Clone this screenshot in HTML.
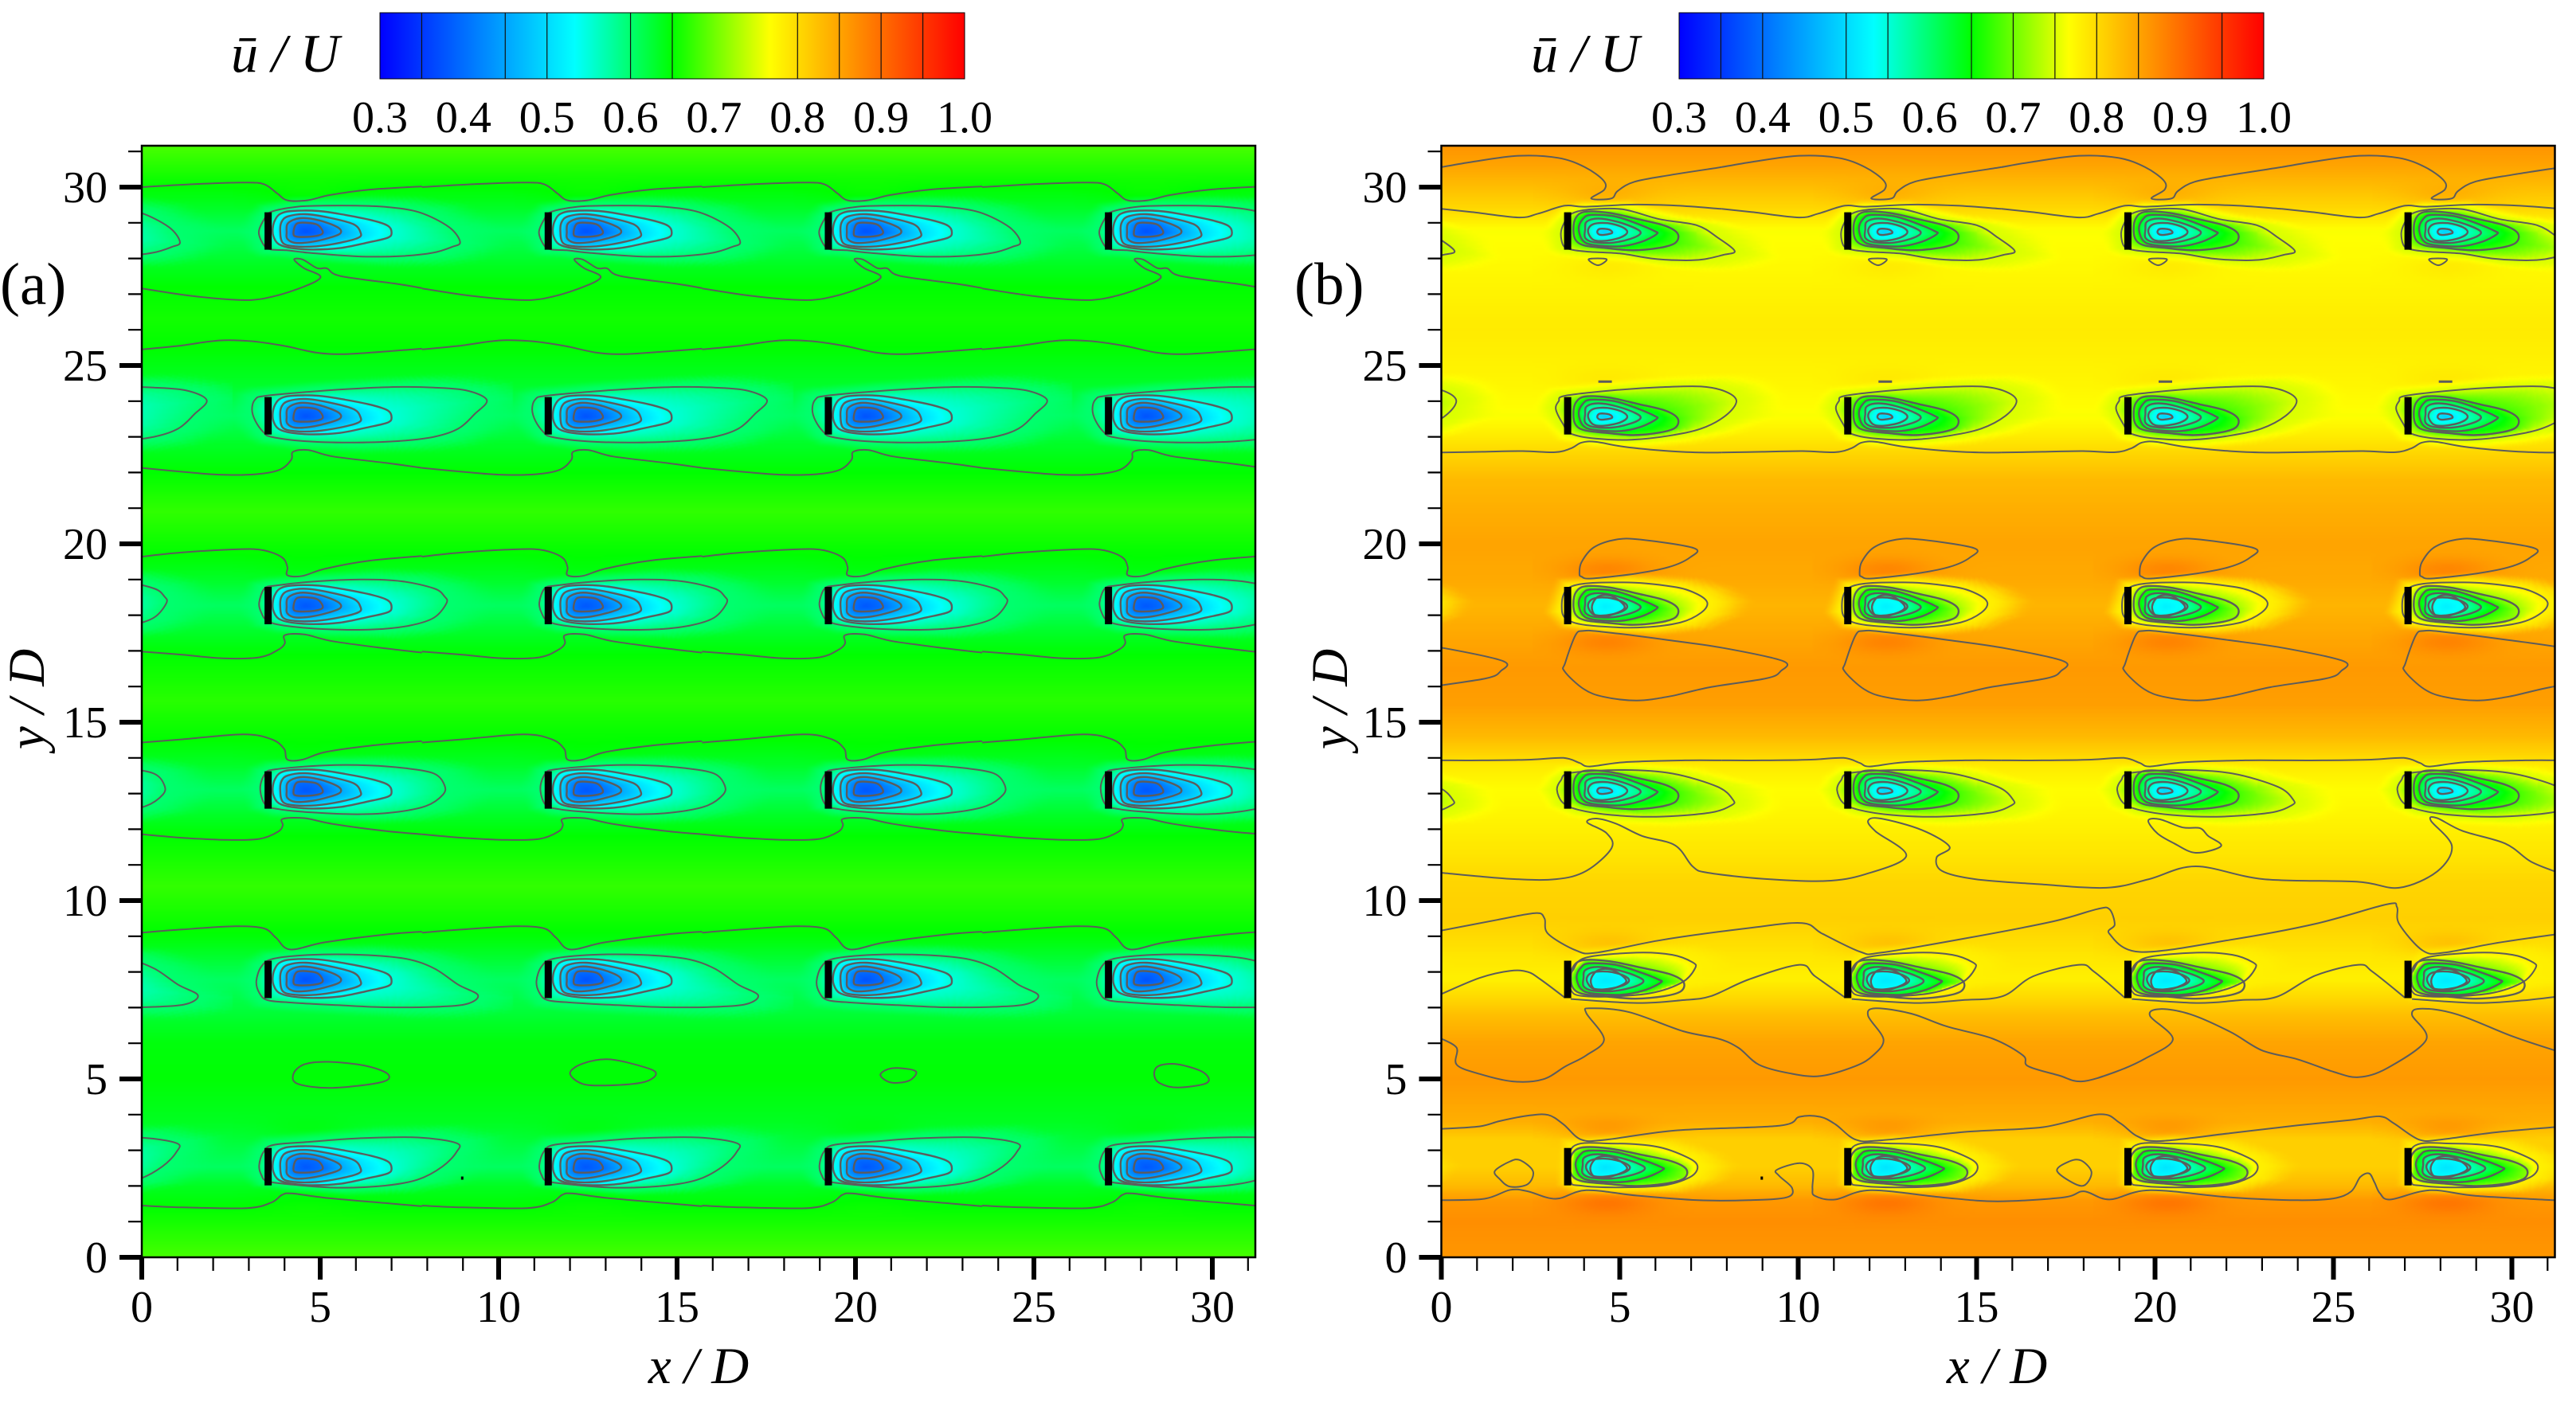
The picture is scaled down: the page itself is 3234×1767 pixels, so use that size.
<!DOCTYPE html>
<html lang="en">
<head>
<meta charset="utf-8">
<title>Mean streamwise velocity contours</title>
<style>
html,body{margin:0;padding:0;background:#fff;}
#figure{position:relative;width:3234px;height:1767px;overflow:hidden;background:#fff;font-family:"Liberation Serif",serif;}
canvas{position:absolute;top:183px;width:1398px;height:1396px;}
svg{position:absolute;left:0;top:0;}
text{font-family:"Liberation Serif",serif;fill:#000;}
.it{font-style:italic;}
</style>
</head>
<body>
<div id="figure">
<canvas id="field-a" width="699" height="698" style="left:178px"></canvas>
<canvas id="field-b" width="699" height="698" style="left:1809.5px"></canvas>
<svg id="overlay" width="3234" height="1767" viewBox="0 0 3234 1767">
  <defs id="defs"></defs>
  <text x="0" y="382" font-size="75">(a)</text>
  <text x="1625" y="382" font-size="75">(b)</text>
  <text class="it" x="290" y="90" font-size="68">ū / U</text>
  <text class="it" x="1922" y="90" font-size="68">ū / U</text>
  <text class="it" x="877" y="1737" font-size="65" text-anchor="middle">x / D</text>
  <text class="it" x="2507" y="1737" font-size="65" text-anchor="middle">x / D</text>
  <text class="it" transform="translate(55 878) rotate(-90)" font-size="65" text-anchor="middle">y / D</text>
  <text class="it" transform="translate(1691 878) rotate(-90)" font-size="65" text-anchor="middle">y / D</text>
</svg>
</div>
<script>
/* ---------- axes ---------- */
const xMajorTicks = [0,5,10,15,20,25,30];
const yMajorTicks = [0,5,10,15,20,25,30];
const minorTicks = [1,2,3,4,6,7,8,9,11,12,13,14,16,17,18,19,21,22,23,24,26,27,28,29,31];
const colorbarTicks = ["0.3","0.4","0.5","0.6","0.7","0.8","0.9","1.0"];
const colorbarLevelsA = [0.35,0.45,0.5,0.6,0.65,0.8,0.85,0.9,0.95];
const colorbarLevelsB = [0.35,0.4,0.5,0.55,0.65,0.7,0.75,0.8,0.85,0.95];

/* ---------- colour map ---------- */
const cmapValues = [0.3,0.5333,0.65,0.7667,1.0];
const cmapRed    = [0,0,0,255,255];
const cmapGreen  = [0,255,255,255,0];
const cmapBlue   = [255,255,0,0,0];

/* ---------- layout of the wind-farm ---------- */
const rowY = [28.77,23.59,18.27,13.10,7.79,2.54];
const turbineX = [3.54,11.39,19.24,27.09];
const turbinePeriod = [7.85];

/* ---------- background velocity profile across y ---------- */
const bgStationsA = [0,1.4,2.0,2.54,3.2,3.8,5,6,7,7.79,8.6,9.1,10.4,11.8,12.4,13.1,13.8,14.5,15.6,16.9,17.5,18.27,19,19.7,20.9,22,22.8,23.59,24.5,25.5,26.3,27.2,27.8,28.77,29.4,30,31.2];
const bgValuesA   = [0.682,0.65,0.635,0.606,0.622,0.635,0.648,0.645,0.622,0.606,0.635,0.65,0.673,0.65,0.632,0.606,0.632,0.65,0.668,0.65,0.632,0.606,0.632,0.65,0.672,0.65,0.632,0.606,0.632,0.65,0.658,0.65,0.635,0.606,0.632,0.65,0.685];
const bgStationsB = [0,1,1.6,2,2.54,3.3,3.8,5,6,6.8,7.2,7.79,8.5,9,9.5,10.5,11,12,13.1,13.8,14,14.6,15.5,16.5,17.2,18.27,19,20,21,21.8,22.5,23,23.59,24.5,26,27,28,28.77,29.35,30.6,31.2];
const bgValuesB   = [0.862,0.87,0.86,0.83,0.81,0.81,0.84,0.86,0.85,0.825,0.805,0.78,0.79,0.8,0.81,0.805,0.795,0.78,0.768,0.785,0.8,0.83,0.855,0.86,0.85,0.835,0.845,0.85,0.84,0.83,0.805,0.785,0.765,0.775,0.785,0.778,0.77,0.765,0.8,0.85,0.865];

/* ---------- wake contour levels (one list per row) ---------- */
const wakeLevelsA = [[0.6,0.55,0.5,0.45,0.4],[0.6,0.55,0.5,0.45,0.4],[0.6,0.55,0.5,0.45,0.4],[0.6,0.55,0.5,0.45,0.4],[0.6,0.55,0.5,0.45,0.4],[0.6,0.55,0.5,0.45,0.4]];
const wakeCoreA = [0.375,0.375,0.38,0.38,0.375,0.38];
const wakeLevelsB = [[0.75,0.68,0.63,0.59,0.56,0.51],[0.75,0.68,0.63,0.59,0.56,0.51],[0.78,0.72,0.66,0.61,0.57,0.54],[0.75,0.68,0.63,0.59,0.56,0.51],[0.78,0.71,0.65,0.6,0.56,0.53],[0.78,0.71,0.65,0.6,0.56,0.53]];
const wakeCoreB = [0.49,0.49,0.52,0.49,0.515,0.51];
const innerStretchB = [1,1,1,1,1.08,1.12];
const glowAboveA = [0.008,0,0.005,0.005,0,0.01];
const glowBelowA = [0,0,0,0,0,0.005];
const glowAboveB = [0.02,0.01,0.03,0,0.025,0.03];
const glowBelowB = [0.012,0,0.03,0,0,0.03];

/* ---------- wake outlines, local to each turbine (dx, dy in D) ---------- */
const outerA1 = [[-.26,-.04],[-.11,.33],[.09,.54],[.82,.68],[1.57,.71],[2.46,.71],[3.35,.67],[4.25,.52],[5.07,.11],[5.38,-.31],[5.14,-.45],[4.62,-.61],[3.8,-.7],[2.76,-.72],[2.01,-.68],[1.12,-.61],[.52,-.54],[.09,-.52],[-.11,-.41]];
const outerA2 = [[-.45,.18],[-.36,.46],[-.08,.56],[1.23,.68],[2.6,.77],[3.74,.81],[4.65,.79],[5.56,.71],[6.13,.44],[5.79,.05],[5.33,-.36],[4.65,-.59],[3.63,-.71],[2.26,-.75],[1.01,-.71],[.09,-.59],[-.13,-.46],[-.36,-.14]];
const outerA3 = [[-.25,.09],[-.1,.48],[.21,.56],[1.23,.67],[2.6,.73],[3.74,.68],[4.65,.48],[4.94,.26],[5,.07],[4.65,-.34],[3.97,-.56],[2.94,-.67],[1.58,-.66],[.44,-.56],[-.02,-.43],[-.19,-.2]];
const outerA4 = [[-.22,.05],[-.08,.46],[.21,.58],[1.58,.69],[2.83,.69],[3.85,.61],[4.65,.46],[4.94,.14],[4.9,-.13],[4.42,-.45],[3.51,-.63],[2.49,-.68],[1.23,-.63],[.32,-.54],[-.08,-.41]];
const outerA5 = [[-.33,-.05],[-.19,.36],[.15,.58],[1.23,.69],[2.6,.69],[3.85,.58],[4.65,.31],[5.33,-.15],[5.88,-.44],[5.56,-.69],[4.65,-.77],[3.28,-.78],[1.92,-.72],[.66,-.65],[-.02,-.58],[-.25,-.37]];
const outerA6 = [[-.25,.05],[-.13,.41],[.15,.61],[1.23,.7],[2.6,.8],[4.2,.82],[5.28,.66],[5.28,.41],[4.88,0],[4.2,-.36],[3.28,-.53],[1.92,-.59],[.66,-.5],[-.02,-.41],[-.19,-.23]];
const innerA2 = [[.13,.07],[.19,.3],[.34,.48],[.67,.56],[1.42,.56],[2.16,.45],[2.91,.3],[3.35,.15],[3.46,-.04],[3.35,-.19],[2.76,-.33],[2.01,-.48],[1.27,-.52],[.67,-.48],[.3,-.37],[.15,-.15]];
const innerA3 = [[.34,0],[.38,.26],[.56,.41],[1.05,.47],[1.72,.37],[2.39,.19],[2.59,-.04],[2.53,-.19],[2.01,-.33],[1.34,-.43],[.75,-.43],[.41,-.33]];
const innerA4 = [[.52,-.04],[.56,.22],[.9,.36],[1.42,.3],[1.94,.11],[2.03,-.06],[1.72,-.19],[1.19,-.31],[.75,-.33],[.54,-.22]];
const innerA5 = [[.71,-.07],[.81,.21],[1.19,.22],[1.42,.15],[1.53,-.06],[1.27,-.15],[.82,-.16]];

const outerB1 = [[-.19,-.07],[-.1,.22],[.1,.48],[.57,.6],[1.53,.61],[2.58,.33],[3.62,.16],[4.21,-.19],[4.68,-.56],[4.36,-.67],[3.77,-.8],[3.1,-.82],[2.35,-.77],[1.46,-.63],[.57,-.58],[.1,-.52],[-.12,-.41]];
const outerB2 = [[-.33,.18],[-.25,.41],[-.08,.56],[1.23,.71],[2.6,.8],[3.74,.82],[4.42,.68],[4.73,.41],[4.42,0],[3.74,-.36],[2.83,-.56],[1.8,-.67],[.78,-.64],[.09,-.5],[-.13,-.23]];
const outerB3 = [[.09,.53],[1.58,.65],[2.94,.53],[3.57,.35],[3.91,.09],[3.74,-.2],[3.17,-.47],[2.14,-.61],[1.01,-.59],[.15,-.47],[-.16,-.15]];
const outerB4 = [[-.3,0],[-.19,.27],[.09,.48],[1.58,.56],[2.94,.46],[4.2,.09],[4.63,-.27],[4.59,-.43],[3.97,-.64],[2.49,-.75],[1.23,-.7],[.32,-.56],[-.13,-.36]];
const outerB5 = [[.05,0],[.15,.26],[.51,.61],[1.93,.75],[2.93,.69],[3.5,.48],[3.57,.31],[3.21,-.08],[2.36,-.38],[1.22,-.48],[.37,-.46],[.11,-.33]];
const outerB6 = [[.15,.56],[1.22,.65],[2.5,.56],[3.36,.26],[3.64,.01],[3.43,-.29],[2.64,-.53],[1.36,-.58],[.37,-.53],[.08,-.38]];
const innerB2 = [[.16,.04],[.23,.37],[.49,.54],[1.16,.51],[1.98,.33],[2.72,.15],[3.08,-.07],[3.02,-.33],[2.58,-.47],[1.83,-.54],[1.09,-.48],[.49,-.41],[.23,-.26]];
const innerB3 = [[.31,.07],[.42,.33],[.64,.45],[1.31,.41],[1.91,.22],[2.43,0],[2.49,-.09],[2.05,-.31],[1.46,-.43],[.71,-.39],[.42,-.26]];
const innerB4 = [[.49,.04],[.53,.26],[.86,.35],[1.39,.26],[1.91,.07],[2.04,-.07],[1.76,-.22],[1.24,-.33],[.71,-.31],[.49,-.19]];
const innerB5 = [[.57,0],[.71,.19],[1.12,.22],[1.53,.11],[1.67,-.04],[1.46,-.19],[1.01,-.28],[.71,-.24]];
const innerB6small = [[.83,-.04],[.9,.06],[1.16,.04],[1.24,-.06],[.94,-.11]];
const innerB6wide = [[.68,-.02],[.85,.25],[1.2,.28],[1.55,.05],[1.55,-.12],[1.1,-.3],[.78,-.28]];

/* ---------- contour lines between rows (one period, x in D) ---------- */
const lineA1 = [[0,30],[1.58,30.09],[2.88,30.13],[3.43,30.08],[3.8,29.82],[4.08,29.63],[4.64,29.63],[5.28,29.78],[6.39,29.93],[7.85,30.02]];
const lineA2 = [[0,27.16],[1.4,26.95],[2.69,26.84],[3.43,26.88],[4.36,27.14],[5.01,27.47],[4.54,27.73],[4.27,27.97],[4.51,27.97],[4.91,27.73],[5.19,27.72],[5.56,27.51],[7.13,27.29],[7.85,27.17]];
const lineA3 = [[0,25.45],[1.03,25.55],[2.16,25.7],[3.08,25.68],[3.99,25.55],[4.9,25.36],[5.69,25.32],[7.06,25.41],[7.85,25.47]];
const lineA4 = [[0,22.13],[1.14,22.02],[2.16,21.94],[3.19,21.95],[3.87,22.08],[4.19,22.36],[4.24,22.58],[4.67,22.63],[5.35,22.45],[6.83,22.27],[7.85,22.13]];
const lineA5 = [[0,19.64],[1.14,19.76],[2.73,19.85],[3.42,19.82],[3.93,19.62],[4.08,19.35],[4.08,19.12],[4.5,19.1],[5.13,19.3],[6.38,19.53],[7.85,19.66]];
const lineA6 = [[0,16.98],[1.14,16.89],[2.28,16.79],[3.3,16.82],[3.82,17.03],[4.01,17.21],[4.01,17.44],[4.56,17.46],[5.35,17.27],[6.83,17.07],[7.85,16.95]];
const lineA7 = [[0,14.43],[1.14,14.52],[2.85,14.66],[3.64,14.52],[3.99,14.25],[4.08,13.95],[4.5,13.95],[5.13,14.16],[6.38,14.34],[7.85,14.47]];
const lineA8 = [[0,11.86],[1.14,11.76],[2.39,11.7],[3.3,11.73],[3.82,11.93],[3.95,12.11],[3.95,12.29],[4.56,12.31],[5.35,12.15],[6.83,11.95],[7.85,11.86]];
const lineA9 = [[0,9.1],[1.14,9.19],[2.62,9.28],[3.42,9.22],[3.76,8.96],[4.16,8.63],[5.13,8.83],[6.83,9.05],[7.85,9.13]];
const lineA10 = [[0,1.45],[1.14,1.4],[2.96,1.38],[3.64,1.54],[3.93,1.75],[4.21,1.79],[5.13,1.67],[6.83,1.52],[7.85,1.43]];
const islandA1 = [[4.25,5.14],[4.56,5.41],[5.24,5.48],[6.26,5.37],[6.89,5.14],[6.72,4.91],[5.35,4.75],[4.38,4.86]];
const islandA2 = [[12,5.16],[12.36,5.43],[13.1,5.55],[14.12,5.32],[14.41,5.14],[14.07,4.91],[13.1,4.82],[12.36,4.86]];
const islandA3 = [[20.7,5.1],[20.9,5.27],[21.3,5.3],[21.7,5.2],[21.5,4.95],[21,4.9]];
const islandA4 = [[28.37,5.15],[28.51,5.37],[29.03,5.41],[29.74,5.19],[29.85,4.89],[29.03,4.76],[28.51,4.89]];

const lineB1 = [[0,30.56],[.87,30.71],[2.17,30.88],[3.28,30.82],[4.02,30.56],[4.54,30.19],[4.57,29.93],[4.2,29.68],[4.76,29.68],[4.94,29.89],[5.41,30.15],[6.42,30.34],[7.85,30.56]];
const lineB2 = [[0,29.39],[.87,29.3],[2.17,29.15],[2.72,29.26],[3.46,29.48],[4.02,29.45],[5.31,29.51],[6.61,29.48],[7.85,29.39]];
const lineB3 = [[0,22.56],[1.14,22.58],[2.28,22.6],[3.19,22.57],[3.64,22.68],[3.93,22.84],[4.33,22.86],[5.13,22.72],[6.38,22.6],[7.29,22.56],[7.85,22.56]];
const lineB4 = [[0,13.93],[1.14,13.93],[2.51,13.95],[3.42,14],[3.87,13.86],[4.16,13.76],[5.13,13.88],[6.83,13.93],[7.85,13.93]];
const triangleB = [[4.13,27.98],[4.63,27.98],[4.39,27.81]];
const dashB = [[4.4,24.55],[4.78,24.55]];
const islandB1 = [[3.87,19.17],[3.93,19.49],[4.27,19.9],[4.9,20.12],[5.58,20.12],[7.08,19.88],[6.97,19.62],[6.38,19.35],[5.47,19.17],[4.21,19.03],[3.93,19.08]];
const islandB2 = [[3.76,17.44],[3.47,16.66],[3.45,16.43],[3.99,15.93],[4.56,15.71],[5.47,15.61],[6.38,15.72],[7.52,15.98],[9.11,16.23],[9.51,16.43],[9.59,16.71],[7.97,17.07],[6.38,17.3],[4.56,17.53],[3.99,17.56]];

const lineB5 = [[0,10.78],[1.93,10.61],[3.21,10.6],[4.06,10.83],[4.77,11.47],[4.63,11.89],[4.09,12.19],[4.35,12.3],[4.91,12.15],[5.63,11.81],[6.55,11.55],[7.05,10.95],[7.48,10.78],[9.04,10.61],[10.75,10.55],[11.89,10.74],[13.03,11.25],[12.17,11.94],[11.96,12.24],[12.32,12.3],[13.46,11.98],[14.24,11.51],[13.88,11.21],[14.03,10.83],[14.96,10.6],[16.74,10.46],[18.64,10.36],[19.83,10.6],[21.14,10.96],[23.04,10.6],[25.65,10.53],[26.84,10.36],[27.91,10.82],[28.32,11.53],[27.73,12.24],[27.91,12.31],[28.62,11.95],[29.81,11.6],[30.52,11.1],[31.2,10.82]];
const islandB3 = [[19.81,12.24],[20.13,12.28],[20.78,12.05],[21.26,12.03],[21.49,11.81],[21.85,11.53],[21.14,11.34],[20.54,11.6],[20.07,11.88]];
const lineB6 = [[0,9.16],[1.57,9.46],[2.64,9.65],[2.89,9.5],[2.99,9.07],[3.78,8.6],[4.35,8.54],[6.2,8.9],[8.62,9.23],[10.11,9.37],[10.68,9.07],[11.75,8.56],[12.32,8.54],[14.74,8.95],[17.16,9.42],[18.37,9.76],[18.72,9.76],[18.87,9.33],[18.72,9.07],[19.58,8.56],[22.11,8.9],[24.5,9.35],[26.48,9.89],[26.78,9.82],[26.84,9.35],[27.5,8.6],[28.1,8.54],[29.5,8.8],[31.2,9.05]];
const lineB7a = [[0,7.38],[1.07,7.83],[1.93,8.03],[2.42,8],[2.78,7.79],[3.46,7.28]];
const lineB7b = [[3.63,7.24],[5.48,7.13],[6.77,7.21],[7.55,7.32],[8.62,7.79],[10.04,8.2],[10.47,7.88],[11.32,7.28]];
const lineB7c = [[11.5,7.24],[13.3,7.13],[14.6,7.21],[15.73,7.32],[16.59,7.88],[17.87,8.2],[18.3,8],[19.15,7.28]];
const lineB7d = [[19.35,7.24],[21.2,7.13],[22.4,7.21],[23.4,7.3],[24.5,7.9],[25.7,8.2],[26.1,8],[27,7.28]];
const lineB7e = [[27.2,7.24],[29,7.13],[30.3,7.2],[31.2,7.3]];
const lineB8 = [[0,6.13],[.43,5.87],[.43,5.4],[1.07,5.14],[2,4.93],[2.85,4.99],[3.49,5.36],[4.06,5.66],[4.56,6.11],[4.06,6.85],[4.2,6.98],[5.27,6.87],[6.77,6.34],[7.76,6.13],[8.33,5.87],[8.9,5.4],[9.75,5.16],[10.61,5.08],[11.6,5.36],[12.1,5.66],[12.39,6.11],[11.96,6.77],[12.17,6.98],[13.17,6.83],[14.17,6.47],[15.45,6.13],[16.3,5.66],[16.44,5.36],[17.3,5.1],[17.94,4.93],[18.87,5.19],[19.72,5.57],[20.5,6.11],[19.86,6.77],[20.15,6.96],[21,6.81],[22.11,6.32],[23,5.8],[24,5.55],[25,5.2],[25.7,5.05],[26.5,5.3],[27.6,6.1],[27.2,6.8],[27.5,6.97],[28.5,6.8],[30,6.2],[31.2,5.8]];
const lineB9 = [[0,3.6],[1.07,3.67],[1.64,3.82],[2.42,3.97],[2.99,3.99],[3.42,3.73],[3.92,3.3],[4.63,3.3],[6.62,3.56],[9.47,3.69],[10.04,3.94],[10.61,3.94],[11.04,3.73],[11.61,3.3],[12.32,3.28],[14.74,3.52],[16.87,3.65],[18.44,4.01],[19.01,3.77],[19.51,3.39],[20.15,3.26],[22.11,3.48],[24,3.7],[25.5,3.85],[26.3,3.95],[26.7,3.75],[27.4,3.3],[28,3.3],[29.5,3.5],[31.2,3.65]];
const lineB10 = [[0,1.6],[1.21,1.64],[1.93,1.89],[2.42,1.85],[3.21,1.64],[4.06,1.88],[5.48,1.73],[7.19,1.6],[8.62,1.6],[9.68,1.68],[9.83,1.94],[9.47,2.28],[9.4,2.45],[10.04,2.64],[10.4,2.45],[10.4,1.94],[10.47,1.72],[11.04,1.62],[12.03,1.88],[14.03,1.68],[15.59,1.57],[17.44,1.68],[18.01,1.85],[18.72,1.62],[19.86,1.88],[22.11,1.68],[24,1.6],[25,1.65],[25.5,1.85],[25.75,2.25],[26,2.35],[26.15,2.1],[26.3,1.8],[26.6,1.62],[27.7,1.88],[29,1.72],[31.2,1.6]];
const islandB4 = [[1.5,2.42],[1.93,2.69],[2.21,2.72],[2.57,2.41],[2.42,2.05],[1.93,1.98],[1.64,2.19]];
const islandB5 = [[17.26,2.41],[17.6,2.69],[17.94,2.71],[18.22,2.37],[17.94,2]];

/* ---------- grouped references ---------- */
const periodicLinesA = [lineA1,lineA2,lineA3,lineA4,lineA5,lineA6,lineA7,lineA8,lineA9,lineA10];
const freeIslandsA = [islandA1,islandA2,islandA3,islandA4];
const outerRingsA = [outerA1,outerA2,outerA3,outerA4,outerA5,outerA6];
const innerRingsA = [innerA2,innerA3,innerA4,innerA5];
const periodicLinesB = [lineB1,lineB2,lineB3,lineB4];
const periodicClosedB = [triangleB,islandB1,islandB2];
const freeLinesB = [lineB5,lineB6,lineB7a,lineB7b,lineB7c,lineB7d,lineB7e,lineB8,lineB9,lineB10];
const freeIslandsB = [islandB3,islandB4,islandB5];
const outerRingsB = [outerB1,outerB2,outerB3,outerB4,outerB5,outerB6];
const innerCoreRingB = [innerB6small,innerB6small,innerB6wide,innerB6small,innerB6wide,innerB6wide];
const innerRingsB = [innerB2,innerB3,innerB4,innerB5];
const strayDots = [[8.98,2.22]];

/* ---------- scales ---------- */
const UNIT = 44.8, BOTTOM = 1579, TOP = 183, PANEL_W = 1398;
const LEFT_A = 178, LEFT_B = 1809.5;
const NS = 'http://www.w3.org/2000/svg';
const svg = document.getElementById('overlay');
const defs = document.getElementById('defs');
function yScale(v){ return BOTTOM - v*UNIT; }
function interp(xs, ys, v){
  if(v <= xs[0]) return ys[0];
  for(let i=1;i<xs.length;i++){
    if(v <= xs[i]){ const t=(v-xs[i-1])/(xs[i]-xs[i-1]); return ys[i-1]+(ys[i]-ys[i-1])*t; }
  }
  return ys[ys.length-1];
}
function colorOf(v){
  return [interp(cmapValues,cmapRed,v),interp(cmapValues,cmapGreen,v),interp(cmapValues,cmapBlue,v)].map(Math.round);
}
function curve(pts, closed, sx, sy){
  const n=pts.length, P=i=> closed ? pts[(i+n)%n] : pts[Math.max(0,Math.min(n-1,i))];
  let d='M'+sx(pts[0][0]).toFixed(1)+' '+sy(pts[0][1]).toFixed(1);
  const segs = closed ? n : n-1;
  for(let i=0;i<segs;i++){
    const p0=P(i-1),p1=P(i),p2=P(i+1),p3=P(i+2);
    const c1x=sx(p1[0])+(sx(p2[0])-sx(p0[0]))/6, c1y=sy(p1[1])+(sy(p2[1])-sy(p0[1]))/6;
    const c2x=sx(p2[0])-(sx(p3[0])-sx(p1[0]))/6, c2y=sy(p2[1])-(sy(p3[1])-sy(p1[1]))/6;
    d+='C'+c1x.toFixed(1)+' '+c1y.toFixed(1)+' '+c2x.toFixed(1)+' '+c2y.toFixed(1)+' '+sx(p2[0]).toFixed(1)+' '+sy(p2[1]).toFixed(1);
  }
  return d+(closed?'Z':'');
}

/* ---------- field raster ---------- */
const CX = 1.05, CY = -0.02, ANGLES = 360;
function stretched(ring,f){ return ring.map(p=>[CX+(p[0]-CX)*f,p[1]]); }
function innerSetB(r){
  return innerRingsB.concat([innerCoreRingB[r]]).map(ring=>stretched(ring,innerStretchB[r]));
}
function rayTable(poly){
  const out=new Float32Array(ANGLES);
  for(let a=0;a<ANGLES;a++){
    const th=a/ANGLES*2*Math.PI, ux=Math.cos(th), uy=Math.sin(th);
    let best=0.02;
    for(let i=0;i<poly.length;i++){
      const p=poly[i], q=poly[(i+1)%poly.length];
      const ex=q[0]-p[0], ey=q[1]-p[1], wx=p[0]-CX, wy=p[1]-CY;
      const den=ux*ey-uy*ex;
      if(Math.abs(den)<1e-9) continue;
      const t=(wx*ey-wy*ex)/den, s=(wx*uy-wy*ux)/den;
      if(t>0 && s>=0 && s<=1 && t>best) best=t;
    }
    out[a]=best;
  }
  return out;
}
function renderField(id, stations, values, ringsByRow, levelsByRow, core, glowA, glowB){
  const canvas=document.getElementById(id), ctx=canvas.getContext('2d');
  const w=canvas.width, h=canvas.height, img=ctx.createImageData(w,h), px=img.data;
  const tables=ringsByRow.map(rs=>{
    const t=rs.map(rayTable);
    for(let k=1;k<t.length;k++) for(let a=0;a<ANGLES;a++) t[k][a]=Math.min(t[k][a],t[k-1][a]*0.97);
    return t;
  });
  const lut=[]; for(let i=0;i<=1000;i++) lut.push(colorOf(0.3+0.7*i/1000));
  const period=turbinePeriod[0], x0=turbineX[0];
  for(let j=0;j<h;j++){
    const y=(h*2-(j+.5)*2)/UNIT, bgBase=interp(stations,values,y);
    let r=0; for(let q=1;q<rowY.length;q++) if(Math.abs(y-rowY[q])<Math.abs(y-rowY[r])) r=q;
    const dy=y-rowY[r], lv=levelsByRow[r], tb=tables[r], nr=tb.length;
    const near=Math.abs(dy)<2.4;
    for(let i=0;i<w;i++){
      let u=bgBase;
      if(near){
        const x=(i+.5)*2/UNIT;
        const dx=(((x-x0+1)%period)+period)%period-1;
        const amp=dy>0?glowA[r]:glowB[r];
        if(amp){ const ax=(dx-1.1)/1.3, ay=(Math.abs(dy)-1)/0.35; u+=amp*Math.exp(-ax*ax-ay*ay); }
        const vx=dx-CX, vy=dy-CY, rho=Math.hypot(vx,vy);
        let a=Math.round((Math.atan2(vy,vx)+2*Math.PI)/(2*Math.PI)*ANGLES)%ANGLES;
        const R0=tb[0][a];
        if(rho>=R0){
          const fade=Math.min(R0*0.5,1.6);
          let t=(rho-R0)/fade; if(t>1)t=1;
          const s=t*t*(3-2*t);
          u=lv[0]+(u-lv[0])*s;
        }else{
          let done=false;
          for(let k=1;k<nr;k++){
            const Rk=tb[k][a];
            if(rho>=Rk){
              const Rp=tb[k-1][a];
              u=lv[k]+(lv[k-1]-lv[k])*(rho-Rk)/(Rp-Rk);
              done=true; break;
            }
          }
          if(!done){ const Rl=tb[nr-1][a]; u=core[r]+(lv[nr-1]-core[r])*rho/Rl; }
        }
      }
      let q=Math.round((u-0.3)/0.7*1000); if(q<0)q=0; if(q>1000)q=1000;
      const c=lut[q], o=(j*w+i)*4;
      px[o]=c[0];px[o+1]=c[1];px[o+2]=c[2];px[o+3]=255;
    }
  }
  ctx.putImageData(img,0,0);
}
renderField('field-a',bgStationsA,bgValuesA,outerRingsA.map(o=>[o].concat(innerRingsA)),wakeLevelsA,wakeCoreA,glowAboveA,glowBelowA);
renderField('field-b',bgStationsB,bgValuesB,outerRingsB.map((o,r)=>[o].concat(innerSetB(r))),wakeLevelsB,wakeCoreB,glowAboveB,glowBelowB);

/* ---------- contours ---------- */
function contour(group, left, pts, closed, name, sw){
  const sx=v=>left+v*UNIT;
  const p=document.createElementNS(NS,'path');
  
  
  p.setAttribute('d',curve(pts,closed,sx,yScale));
  p.setAttribute('fill','none');
  p.setAttribute('stroke','#5c5c5c');
  p.setAttribute('stroke-width',sw||2);
  p.setAttribute('stroke-linejoin','round');
  group.appendChild(p);
}
function shifted(pts,dx,dy){ return pts.map(p=>[p[0]+dx,p[1]+dy]); }
function makeGroup(left,letter){
  const clip=document.createElementNS(NS,'clipPath');
  clip.setAttribute('id','clip-'+letter);
  const cr=document.createElementNS(NS,'rect');
  cr.setAttribute('x',left);cr.setAttribute('y',TOP);cr.setAttribute('width',PANEL_W);cr.setAttribute('height',BOTTOM-TOP);
  clip.appendChild(cr);defs.appendChild(clip);
  const g=document.createElementNS(NS,'g');
  
  
  g.setAttribute('clip-path','url(#clip-'+letter+')');
  svg.appendChild(g);
  return g;
}
const groupA=makeGroup(LEFT_A,'a'), groupB=makeGroup(LEFT_B,'b');
const period0=turbinePeriod[0];
const copies=[-1,0,1,2,3];
/* panel a */
periodicLinesA.forEach((ln,i)=>{ [0,1,2,3].forEach(k=>contour(groupA,LEFT_A,shifted(ln,k*period0,0),false,'contour-line-a'+(i+1),2)); });
freeIslandsA.forEach((ln,i)=>contour(groupA,LEFT_A,ln,true,'contour-island-a'+(i+1),2));
rowY.forEach((yr,r)=>{
  copies.forEach(k=>{
    const ox=turbineX[0]+k*period0;
    contour(groupA,LEFT_A,shifted(outerRingsA[r],ox,yr),true,'wake-contour-outer-a',2);
    innerRingsA.forEach(ring=>contour(groupA,LEFT_A,shifted(ring,ox,yr),true,'wake-contour-inner-a',2.4));
  });
});
/* panel b */
periodicLinesB.forEach((ln,i)=>{ [0,1,2,3].forEach(k=>contour(groupB,LEFT_B,shifted(ln,k*period0,0),false,'contour-line-b'+(i+1),2)); });
periodicClosedB.forEach((ln,i)=>{ copies.forEach(k=>contour(groupB,LEFT_B,shifted(ln,k*period0,0),true,'contour-island-b'+(i+1),2)); });
[0,1,2,3].forEach(k=>contour(groupB,LEFT_B,shifted(dashB,k*period0,0),false,'contour-dash-b',3));
freeLinesB.forEach((ln,i)=>contour(groupB,LEFT_B,ln,false,'contour-line-b'+(i+5),2));
freeIslandsB.forEach((ln,i)=>contour(groupB,LEFT_B,ln,true,'contour-island-free-b'+(i+1),2));
rowY.forEach((yr,r)=>{
  copies.forEach(k=>{
    const ox=turbineX[0]+k*period0;
    contour(groupB,LEFT_B,shifted(outerRingsB[r],ox,yr),true,'wake-contour-outer-b',2);
    innerSetB(r).forEach(ring=>contour(groupB,LEFT_B,shifted(ring,ox,yr),true,'wake-contour-inner-b',2.4));
  });
});

/* ---------- turbines, frame, ticks, labels, colour bars ---------- */
function drawPanel(left,letter){
  rowY.forEach(yr=>{
    turbineX.forEach(tx=>{
      const b=document.createElementNS(NS,'rect');
      
      
      b.setAttribute('x',left+tx*UNIT-4.5);
      b.setAttribute('y',yScale(yr)-23.5);
      b.setAttribute('width',9);
      b.setAttribute('height',47);
      b.setAttribute('fill','#000');
      svg.appendChild(b);
    });
  });
  strayDots.forEach(dot=>{
    const d=document.createElementNS(NS,'rect');
    
    
    d.setAttribute('x',left+dot[0]*UNIT-1.5);
    d.setAttribute('y',yScale(dot[1])-2);
    d.setAttribute('width',3);
    d.setAttribute('height',4);
    svg.appendChild(d);
  });
  const f=document.createElementNS(NS,'rect');
  
  
  f.setAttribute('x',left);f.setAttribute('y',TOP);f.setAttribute('width',PANEL_W);f.setAttribute('height',BOTTOM-TOP);
  f.setAttribute('fill','none');f.setAttribute('stroke','#000');f.setAttribute('stroke-width',2.5);
  svg.appendChild(f);
  xMajorTicks.forEach(v=>{
    const px=left+v*UNIT;
    const t=document.createElementNS(NS,'line');
    
    
    t.setAttribute('x1',px);t.setAttribute('x2',px);t.setAttribute('y1',BOTTOM);t.setAttribute('y2',BOTTOM+28);
    t.setAttribute('stroke','#000');t.setAttribute('stroke-width',6);
    svg.appendChild(t);
    const l=document.createElementNS(NS,'text');
    
    
    l.setAttribute('x',px);l.setAttribute('y',1660);l.setAttribute('font-size',56);l.setAttribute('text-anchor','middle');
    l.textContent=v;
    svg.appendChild(l);
  });
  yMajorTicks.forEach(v=>{
    const py=yScale(v);
    const t=document.createElementNS(NS,'line');
    
    
    t.setAttribute('x1',left-28);t.setAttribute('x2',left);t.setAttribute('y1',py);t.setAttribute('y2',py);
    t.setAttribute('stroke','#000');t.setAttribute('stroke-width',6);
    svg.appendChild(t);
    const l=document.createElementNS(NS,'text');
    
    
    l.setAttribute('x',left-43);l.setAttribute('y',py+19);l.setAttribute('font-size',56);l.setAttribute('text-anchor','end');
    l.textContent=v;
    svg.appendChild(l);
  });
  minorTicks.forEach(v=>{
    const px=left+v*UNIT, py=yScale(v);
    const tx=document.createElementNS(NS,'line');
    
    
    tx.setAttribute('x1',px);tx.setAttribute('x2',px);tx.setAttribute('y1',BOTTOM);tx.setAttribute('y2',BOTTOM+17);
    tx.setAttribute('stroke','#000');tx.setAttribute('stroke-width',2.2);
    svg.appendChild(tx);
    const ty=document.createElementNS(NS,'line');
    
    
    ty.setAttribute('x1',left-17);ty.setAttribute('x2',left);ty.setAttribute('y1',py);ty.setAttribute('y2',py);
    ty.setAttribute('stroke','#000');ty.setAttribute('stroke-width',2.2);
    svg.appendChild(ty);
  });
}
drawPanel(LEFT_A,'a');
drawPanel(LEFT_B,'b');

function drawColorbar(x0,letter,levels){
  const W=734, Y0=16, H=83, cx=v=>x0+(v-0.3)/0.7*W;
  const grad=document.createElementNS(NS,'linearGradient');
  grad.setAttribute('id','cbar-grad-'+letter);
  cmapValues.forEach((v,i)=>{
    const s=document.createElementNS(NS,'stop');
    s.setAttribute('offset',((v-0.3)/0.7*100)+'%');
    s.setAttribute('stop-color','rgb('+cmapRed[i]+','+cmapGreen[i]+','+cmapBlue[i]+')');
    grad.appendChild(s);
  });
  defs.appendChild(grad);
  const bar=document.createElementNS(NS,'rect');
  
  
  bar.setAttribute('x',x0);bar.setAttribute('y',Y0);bar.setAttribute('width',W);bar.setAttribute('height',H);
  bar.setAttribute('fill','url(#cbar-grad-'+letter+')');bar.setAttribute('stroke','#000');bar.setAttribute('stroke-width',1);
  svg.appendChild(bar);
  levels.forEach(v=>{
    const ln=document.createElementNS(NS,'line');
    
    
    ln.setAttribute('x1',cx(v));ln.setAttribute('x2',cx(v));ln.setAttribute('y1',Y0);ln.setAttribute('y2',Y0+H);
    ln.setAttribute('stroke','#111');ln.setAttribute('stroke-width',1.2);
    svg.appendChild(ln);
  });
  colorbarTicks.forEach(txt=>{
    const l=document.createElementNS(NS,'text');
    
    
    l.setAttribute('x',cx(parseFloat(txt)));l.setAttribute('y',166);l.setAttribute('font-size',56);l.setAttribute('text-anchor','middle');
    l.textContent=txt;
    svg.appendChild(l);
  });
}
drawColorbar(477,'a',colorbarLevelsA);
drawColorbar(2108,'b',colorbarLevelsB);
</script>
</body>
</html>
